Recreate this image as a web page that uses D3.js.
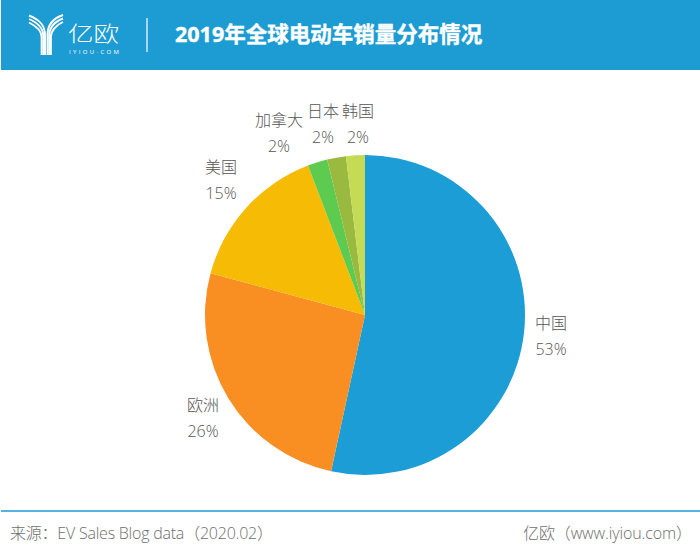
<!DOCTYPE html>
<html>
<head>
<meta charset="utf-8">
<script src="https://cdnjs.cloudflare.com/ajax/libs/d3/7.8.5/d3.min.js"></script>
<style>
  html, body { margin: 0; padding: 0; background: #fff; }
  svg { display: block; }
  text { font-family: "Open Sans", "Noto Sans CJK SC", sans-serif; }
</style>
</head>
<body>
<div class="chart"></div>
<script>
var regions = ["中国", "欧洲", "美国", "加拿大", "日本", "韩国"];
var shares = [53.4, 25.8, 15.0, 2.0, 1.9, 1.9];
var shareLabels = ["53%", "26%", "15%", "2%", "2%", "2%"];
var colors = ["#1c9dd6", "#f98e23", "#f6bb04", "#5ccb4f", "#9ab93f", "#c5da55"];
var labelX = [551, 203, 221, 279, 323, 358];
var labelY = [324, 406, 168, 121, 112, 112];

var width = 700, height = 556;
var blue = "#1d9bd3";

var svg = d3.select(".chart").append("svg")
  .attr("width", width)
  .attr("height", height);

// header band
svg.append("rect")
  .attr("x", 1).attr("y", 0)
  .attr("width", 699).attr("height", 70)
  .attr("fill", blue);

// logo, three curved strokes either side of the stem
var logo = svg.append("g")
  .attr("fill", "none")
  .attr("stroke", "#fff")
  .attr("stroke-width", 1.9);

[0, 1, 2].forEach(function(i) {
  var d = i * 1.7, t = i * 3.5;
  logo.append("path")
    .attr("d", "M" + (45 - d) + " 55 V" + (35 + i) + " C" + (45 - d) + " " + (24 + t) + " " + (38 - i) + " " + (19 + t) + " 29 " + (15.5 + t));
  logo.append("path")
    .attr("d", "M" + (47.5 + d) + " 55 V" + (35 + i) + " C" + (47.5 + d) + " " + (24 + t) + " " + (54 + i) + " " + (18 + t) + " 63 " + (15 + t));
});

// logo name is wider than the font, so stretch it sideways
svg.append("text")
  .attr("transform", "translate(68,41) scale(1.22,1)")
  .attr("font-size", 21)
  .attr("font-weight", 300)
  .attr("fill", "#fff")
  .text("亿欧");

svg.append("text")
  .attr("x", 69).attr("y", 53.5)
  .attr("font-size", 6)
  .attr("fill", "#fff")
  .attr("textLength", 50)
  .text("IYIOU·COM");

svg.append("line")
  .attr("x1", 147).attr("x2", 147)
  .attr("y1", 18).attr("y2", 52)
  .attr("stroke", "#fff")
  .attr("stroke-width", 1.2);

svg.append("text")
  .attr("x", 175).attr("y", 42)
  .attr("font-size", 21.5)
  .attr("font-weight", 700)
  .attr("fill", "#fff")
  .attr("stroke", "#fff")
  .attr("stroke-width", 0.4)
  .text("2019年全球电动车销量分布情况");

// pie
var pie = d3.pie().sort(null).value(function(d) { return d; });
var arc = d3.arc().innerRadius(0).outerRadius(160);

var pieGroup = svg.append("g")
  .attr("transform", "translate(365,315)");

pieGroup.selectAll("path")
  .data(pie(shares))
  .enter()
  .append("path")
  .attr("d", arc)
  .attr("fill", function(d, i) { return colors[i]; });

// labels
var labels = svg.selectAll(".slice-label")
  .data(regions)
  .enter()
  .append("text")
  .attr("class", "slice-label")
  .attr("text-anchor", "middle")
  .attr("font-size", 16)
  .attr("font-weight", 300)
  .attr("fill", "#555");

labels.append("tspan")
  .attr("x", function(d, i) { return labelX[i]; })
  .attr("y", function(d, i) { return labelY[i] + 5; })
  .text(function(d) { return d; });

labels.append("tspan")
  .attr("x", function(d, i) { return labelX[i]; })
  .attr("y", function(d, i) { return labelY[i] + 31; })
  .text(function(d, i) { return shareLabels[i]; });

// footer
svg.append("line")
  .attr("x1", 1).attr("x2", 700)
  .attr("y1", 511).attr("y2", 511)
  .attr("stroke", blue)
  .attr("stroke-width", 1.5);

svg.append("text")
  .attr("x", 10).attr("y", 539)
  .attr("font-size", 16)
  .attr("font-weight", 300)
  .attr("fill", "#6e6e6e")
  .attr("textLength", 263)
  .text("来源：EV Sales Blog data（2020.02）");

svg.append("text")
  .attr("x", 523).attr("y", 539)
  .attr("font-size", 16)
  .attr("font-weight", 300)
  .attr("fill", "#6e6e6e")
  .attr("textLength", 169)
  .text("亿欧（www.iyiou.com）");
</script>
</body>
</html>
